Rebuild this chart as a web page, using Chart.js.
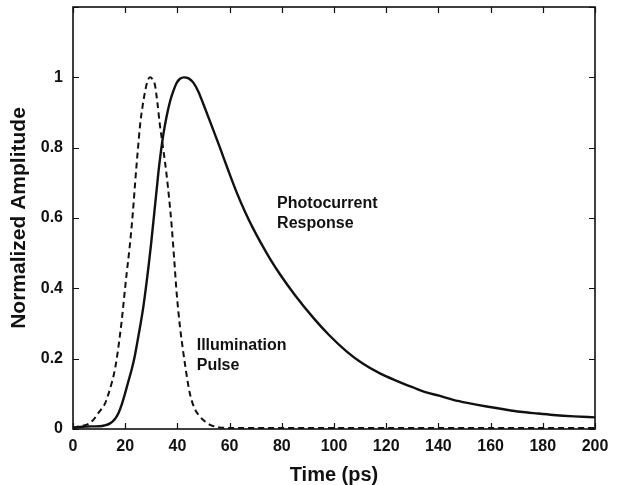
<!DOCTYPE html>
<html>
<head>
<meta charset="utf-8">
<script src="https://cdn.jsdelivr.net/npm/chart.js@4.4.1/dist/chart.umd.min.js"></script>
<style>
	html, body { margin: 0; padding: 0; background: #fff; }
	#wrap { width: 617px; height: 485px; }
</style>
</head>
<body>
<div id="wrap"><canvas id="pulseChart"></canvas></div>
<script>
// photocurrent response (solid)
var responseTime = [0, 5, 10, 12, 14.2, 16, 17.4, 18.7, 19.9, 21.2, 22.5, 23.6, 24.6, 25.8, 26.9, 27.9, 28.9, 29.9, 30.8, 31.8, 32.7, 33.7, 34.6, 35.9, 37.2, 38.5, 39.7, 41, 42.5, 44.3, 46.1, 48, 49.9, 53, 56.3, 59.5, 62.7, 65.9, 69.1, 72.3, 75.5, 79.3, 85, 92.1, 98, 104.9, 111, 117.6, 124, 130.4, 135, 140.6, 145.7, 152, 158.5, 165, 171.3, 178, 184, 192, 200];
var responseAmp = [0.004, 0.007, 0.008, 0.010, 0.016, 0.028, 0.045, 0.07, 0.10, 0.135, 0.17, 0.205, 0.245, 0.295, 0.345, 0.40, 0.46, 0.525, 0.59, 0.662, 0.728, 0.79, 0.837, 0.89, 0.932, 0.962, 0.984, 0.996, 1.0, 0.997, 0.985, 0.96, 0.925, 0.865, 0.80, 0.735, 0.673, 0.618, 0.569, 0.525, 0.484, 0.440, 0.381, 0.316, 0.268, 0.220, 0.186, 0.158, 0.137, 0.118, 0.105, 0.094, 0.083, 0.073, 0.064, 0.056, 0.049, 0.044, 0.040, 0.036, 0.033];

// illumination pulse (dashed)
var pulseTime = [0, 3, 6, 7.8, 9.7, 11, 12.3, 13.6, 14.8, 15.8, 16.7, 17.7, 18.7, 19.6, 20.6, 21.6, 22.5, 23.2, 23.8, 24.8, 25.7, 26.7, 27.6, 28.5, 29.5, 30.4, 31.4, 32.3, 33.3, 34.6, 35.9, 36.9, 37.8, 38.8, 39.7, 41, 42.3, 43.5, 44.8, 46.5, 48.7, 50.5, 52.5, 55, 60, 80, 100, 120, 140, 160, 180, 200];
var pulseAmp = [0.004, 0.008, 0.015, 0.026, 0.045, 0.058, 0.073, 0.10, 0.13, 0.16, 0.197, 0.25, 0.31, 0.375, 0.445, 0.51, 0.578, 0.64, 0.70, 0.79, 0.864, 0.92, 0.959, 0.988, 1.0, 0.995, 0.978, 0.93, 0.864, 0.795, 0.72, 0.65, 0.578, 0.48, 0.388, 0.29, 0.216, 0.155, 0.10, 0.06, 0.035, 0.022, 0.012, 0.006, 0.003, 0.003, 0.003, 0.003, 0.003, 0.003, 0.003, 0.003];

var xTickValues = [0, 20, 40, 60, 80, 100, 120, 140, 160, 180, 200];
var yTickValues = [0, 0.2, 0.4, 0.6, 0.8, 1, 1.2];
var yTickLabels = ["0", "0.2", "0.4", "0.6", "0.8", "1", ""];

var notes = [
	{ lines: ["Photocurrent", "Response"], x: 78.2, y: 0.629 },
	{ lines: ["Illumination", "Pulse"], x: 47.4, y: 0.226 }
];

var FONT = "'Liberation Sans', Arial, Helvetica, sans-serif";
var INK = "#111";

function toPoints(xs, ys) {
	var out = [];
	for (var i = 0; i < xs.length; i++) {
		out.push({ x: xs[i], y: ys[i] });
	}
	return out;
}

// box, inward ticks on all four sides, and the curve labels
var framePlugin = {
	id: "frame",
	afterDraw: function (chart) {
		var ctx = chart.ctx;
		var a = chart.chartArea;
		var xs = chart.scales.x, ys = chart.scales.y;
		var len = 6;
		ctx.save();
		ctx.strokeStyle = INK;
		ctx.lineWidth = 1.2;
		ctx.beginPath();
		xTickValues.forEach(function (v) {
			var px = Math.round(xs.getPixelForValue(v)) + 0.5;
			ctx.moveTo(px, a.bottom); ctx.lineTo(px, a.bottom - len);
			ctx.moveTo(px, a.top); ctx.lineTo(px, a.top + len);
		});
		yTickValues.forEach(function (v) {
			var py = Math.round(ys.getPixelForValue(v)) + 0.5;
			ctx.moveTo(a.left, py); ctx.lineTo(a.left + len, py);
			ctx.moveTo(a.right, py); ctx.lineTo(a.right - len, py);
		});
		ctx.stroke();

		ctx.lineWidth = 1.6;
		ctx.strokeRect(a.left, a.top, a.right - a.left, a.bottom - a.top);

		ctx.fillStyle = INK;
		ctx.font = "bold 16px " + FONT;
		ctx.textBaseline = "alphabetic";
		ctx.textAlign = "left";
		notes.forEach(function (n) {
			var px = xs.getPixelForValue(n.x);
			var py = ys.getPixelForValue(n.y);
			n.lines.forEach(function (t, i) {
				ctx.fillText(t, px, py + i * 20.5);
			});
		});
		ctx.restore();
	}
};

var ctx = document.getElementById("pulseChart").getContext("2d");
new Chart(ctx, {
	type: "line",
	data: {
		datasets: [
			{
				label: "Photocurrent Response",
				data: toPoints(responseTime, responseAmp),
				borderColor: INK,
				borderWidth: 2.4,
				pointRadius: 0,
				fill: false,
				cubicInterpolationMode: "monotone"
			},
			{
				label: "Illumination Pulse",
				data: toPoints(pulseTime, pulseAmp),
				borderColor: INK,
				borderWidth: 2,
				borderDash: [6, 4],
				pointRadius: 0,
				fill: false,
				cubicInterpolationMode: "monotone"
			}
		]
	},
	options: {
		responsive: true,
		maintainAspectRatio: false,
		animation: false,
		events: [],
		layout: { padding: { top: 7, right: 22, left: 0, bottom: 0 } },
		plugins: {
			legend: { display: false },
			tooltip: { enabled: false }
		},
		scales: {
			x: {
				type: "linear",
				min: 0,
				max: 200,
				afterBuildTicks: function (scale) {
					scale.ticks = xTickValues.map(function (v) { return { value: v }; });
				},
				afterFit: function (scale) { scale.height = 56; },
				grid: { display: false, drawTicks: false },
				border: { display: false },
				ticks: {
					color: INK,
					padding: 8,
					maxRotation: 0,
					font: { family: FONT, size: 16, weight: "bold" }
				},
				title: {
					display: true,
					text: "Time (ps)",
					color: INK,
					padding: { top: 0, bottom: 0 },
					font: { family: FONT, size: 20, weight: "bold", lineHeight: 1 }
				}
			},
			y: {
				type: "linear",
				min: 0,
				max: 1.2,
				afterBuildTicks: function (scale) {
					scale.ticks = yTickValues.map(function (v) { return { value: v }; });
				},
				afterFit: function (scale) {
					scale.width = 73;
					// the top tick has no label, so no room is needed for it
					scale.paddingTop = 0;
					scale.paddingBottom = 0;
				},
				grid: { display: false, drawTicks: false },
				border: { display: false },
				ticks: {
					color: INK,
					padding: 10,
					font: { family: FONT, size: 16, weight: "bold" },
					callback: function (value, index) { return yTickLabels[index]; }
				},
				title: {
					display: true,
					text: "Normalized Amplitude",
					color: INK,
					padding: { top: 9, bottom: 9 },
					font: { family: FONT, size: 21, weight: "bold", lineHeight: 1 }
				}
			}
		}
	},
	plugins: [framePlugin]
});
</script>
</body>
</html>
